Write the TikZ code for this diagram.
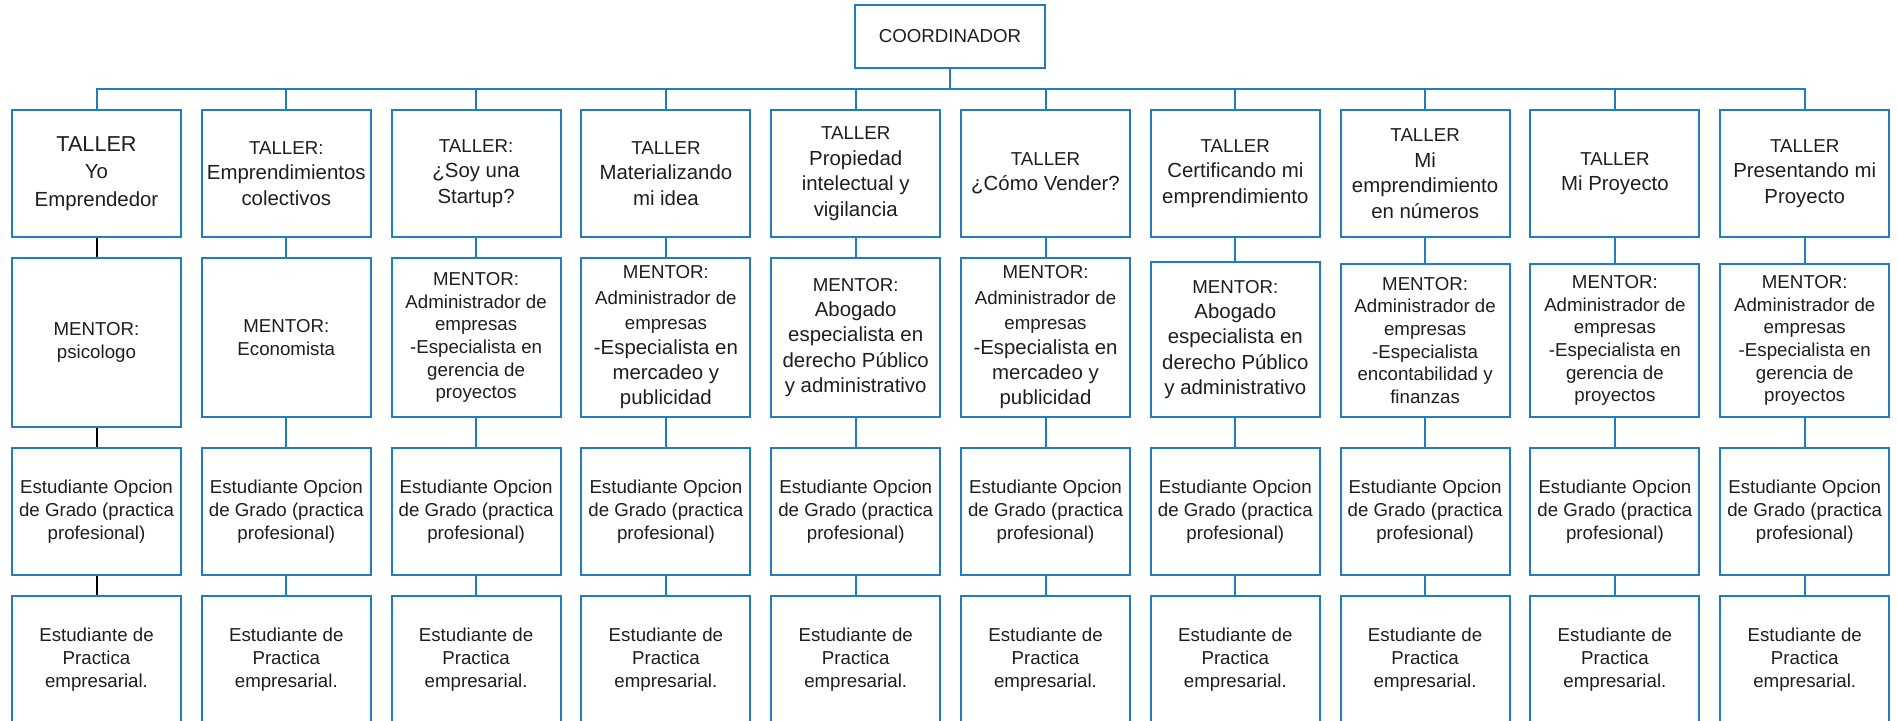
\documentclass[tikz,border=0pt]{standalone}
\usepackage{fontspec}
\setmainfont{Liberation Sans}
\usepackage{tikz}

\definecolor{cajaazul}{RGB}{33,125,193}
\definecolor{texto}{RGB}{30,30,30}
\newcommand{\chico}[1]{{\fontsize{9.35}{11.35}\selectfont #1}}

\tikzset{
  caja/.style={draw=cajaazul, line width=1pt, text=texto, align=center, inner sep=0pt,
    minimum width=84.5pt, minimum height=63.5pt, font=\fontsize{9.35}{11.35}\selectfont},
  tallercaja/.style={caja, font=\fontsize{10.2}{12.8}\selectfont},
  mentorgrande/.style={font=\fontsize{10.2}{12.6}\selectfont},
  enlace/.style={draw=cajaazul, line width=1pt},
  enlacenegro/.style={draw=black, line width=1pt}
}

\begin{document}
\begin{tikzpicture}[x=0.5pt,y=-0.5pt]
            \useasboundingbox (0,0) rectangle (1898,721);
            \clip (0,0) rectangle (1898,721);

            \node[caja, minimum width=95pt, minimum height=31.5pt] (coord) at (950,36.5) {COORDINADOR};
            \coordinate (bus) at (950,89);

            \node[tallercaja, font=\fontsize{10.2}{13.75}\selectfont] (t1) at (96.5,173.5) {{\fontsize{10.8}{13.75}\selectfont TALLER}\\Yo\\Emprendedor};
            \node[tallercaja] (t2) at (286.3,173.5) {\chico{TALLER:}\\Emprendimientos\\colectivos};
            \node[tallercaja] (t3) at (476.1,173.5) {\chico{TALLER:}\\¿Soy una\\Startup?};
            \node[tallercaja] (t4) at (665.9,173.5) {\chico{TALLER}\\Materializando\\mi idea};
            \node[tallercaja] (t5) at (855.7,173.5) {\chico{TALLER}\\Propiedad\\intelectual y\\vigilancia};
            \node[tallercaja] (t6) at (1045.5,173.5) {\chico{TALLER}\\¿Cómo Vender?};
            \node[tallercaja] (t7) at (1235.3,173.5) {\chico{TALLER}\\Certificando mi\\emprendimiento};
            \node[tallercaja] (t8) at (1425.1,173.5) {\chico{TALLER}\\Mi\\emprendimiento\\en números};
            \node[tallercaja] (t9) at (1614.9,173.5) {\chico{TALLER}\\Mi Proyecto};
            \node[tallercaja] (t10) at (1804.7,173.5) {\chico{TALLER}\\Presentando mi\\Proyecto};

            \node[caja, minimum height=84.5pt] (m1) at (96.5,342.5) {MENTOR:\\psicologo};
            \node[caja, minimum height=79.5pt] (m2) at (286.3,337.5) {MENTOR:\\Economista};
            \node[caja, minimum height=79.5pt] (m3) at (476.1,337.5) {MENTOR:\\Administrador de\\empresas\\-Especialista en\\gerencia de\\proyectos};
            \node[caja, mentorgrande, minimum height=79.5pt] (m4) at (665.9,337.5) {\chico{MENTOR:}\\\chico{Administrador de}\\\chico{empresas}\\-Especialista en\\mercadeo y\\publicidad};
            \node[caja, mentorgrande, minimum height=79.5pt] (m5) at (855.7,337.5) {\chico{MENTOR:}\\Abogado\\especialista en\\derecho Público\\y administrativo};
            \node[caja, mentorgrande, minimum height=79.5pt] (m6) at (1045.5,337.5) {\chico{MENTOR:}\\\chico{Administrador de}\\\chico{empresas}\\-Especialista en\\mercadeo y\\publicidad};
            \node[caja, mentorgrande, minimum height=77.5pt] (m7) at (1235.3,339.5) {\chico{MENTOR:}\\Abogado\\especialista en\\derecho Público\\y administrativo};
            \node[caja, minimum height=76.5pt] (m8) at (1425.1,340.5) {MENTOR:\\Administrador de\\empresas\\-Especialista\\encontabilidad y\\finanzas};
            \node[caja, minimum height=76.5pt] (m9) at (1614.9,340.5) {MENTOR:\\Administrador de\\empresas\\-Especialista en\\gerencia de\\proyectos};
            \node[caja, minimum height=76.5pt] (m10) at (1804.7,340.5) {MENTOR:\\Administrador de\\empresas\\-Especialista en\\gerencia de\\proyectos};

            \node[caja] (g1) at (96.5,511.5) {Estudiante Opcion\\de Grado (practica\\profesional)};
            \node[caja] (g2) at (286.3,511.5) {Estudiante Opcion\\de Grado (practica\\profesional)};
            \node[caja] (g3) at (476.1,511.5) {Estudiante Opcion\\de Grado (practica\\profesional)};
            \node[caja] (g4) at (665.9,511.5) {Estudiante Opcion\\de Grado (practica\\profesional)};
            \node[caja] (g5) at (855.7,511.5) {Estudiante Opcion\\de Grado (practica\\profesional)};
            \node[caja] (g6) at (1045.5,511.5) {Estudiante Opcion\\de Grado (practica\\profesional)};
            \node[caja] (g7) at (1235.3,511.5) {Estudiante Opcion\\de Grado (practica\\profesional)};
            \node[caja] (g8) at (1425.1,511.5) {Estudiante Opcion\\de Grado (practica\\profesional)};
            \node[caja] (g9) at (1614.9,511.5) {Estudiante Opcion\\de Grado (practica\\profesional)};
            \node[caja] (g10) at (1804.7,511.5) {Estudiante Opcion\\de Grado (practica\\profesional)};

            \node[caja] (p1) at (96.5,659.5) {Estudiante de\\Practica\\empresarial.};
            \node[caja] (p2) at (286.3,659.5) {Estudiante de\\Practica\\empresarial.};
            \node[caja] (p3) at (476.1,659.5) {Estudiante de\\Practica\\empresarial.};
            \node[caja] (p4) at (665.9,659.5) {Estudiante de\\Practica\\empresarial.};
            \node[caja] (p5) at (855.7,659.5) {Estudiante de\\Practica\\empresarial.};
            \node[caja] (p6) at (1045.5,659.5) {Estudiante de\\Practica\\empresarial.};
            \node[caja] (p7) at (1235.3,659.5) {Estudiante de\\Practica\\empresarial.};
            \node[caja] (p8) at (1425.1,659.5) {Estudiante de\\Practica\\empresarial.};
            \node[caja] (p9) at (1614.9,659.5) {Estudiante de\\Practica\\empresarial.};
            \node[caja] (p10) at (1804.7,659.5) {Estudiante de\\Practica\\empresarial.};

            \draw[enlace] (coord) -- (bus);
            \draw[enlace] (t1) |- (bus) -| (t10);
            \draw[enlace] (t2) -- (t2 |- bus);
            \draw[enlace] (t3) -- (t3 |- bus);
            \draw[enlace] (t4) -- (t4 |- bus);
            \draw[enlace] (t5) -- (t5 |- bus);
            \draw[enlace] (t6) -- (t6 |- bus);
            \draw[enlace] (t7) -- (t7 |- bus);
            \draw[enlace] (t8) -- (t8 |- bus);
            \draw[enlace] (t9) -- (t9 |- bus);

            \draw[enlacenegro] (t1) -- (m1) -- (g1) -- (p1);
            \draw[enlace] (t2) -- (m2) -- (g2) -- (p2);
            \draw[enlace] (t3) -- (m3) -- (g3) -- (p3);
            \draw[enlace] (t4) -- (m4) -- (g4) -- (p4);
            \draw[enlace] (t5) -- (m5) -- (g5) -- (p5);
            \draw[enlace] (t6) -- (m6) -- (g6) -- (p6);
            \draw[enlace] (t7) -- (m7) -- (g7) -- (p7);
            \draw[enlace] (t8) -- (m8) -- (g8) -- (p8);
            \draw[enlace] (t9) -- (m9) -- (g9) -- (p9);
            \draw[enlace] (t10) -- (m10) -- (g10) -- (p10);
        \end{tikzpicture}
\end{document}
